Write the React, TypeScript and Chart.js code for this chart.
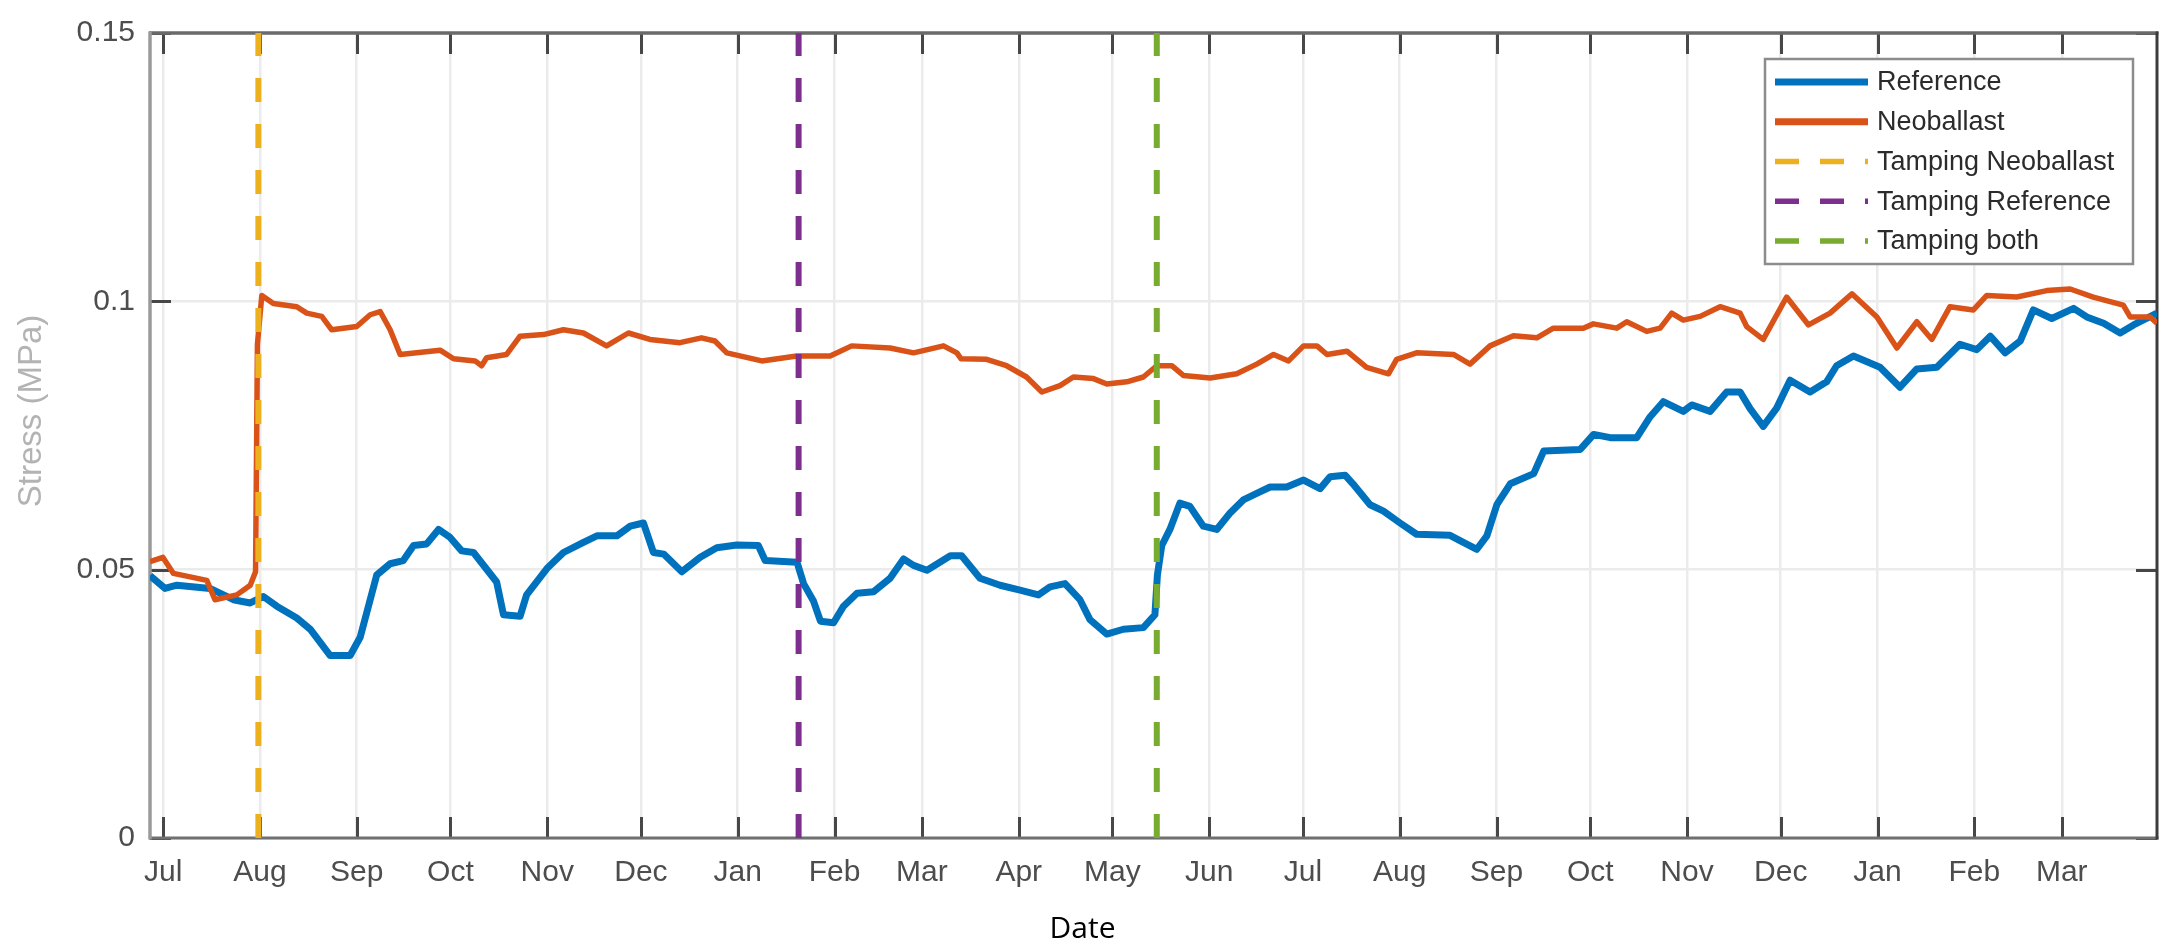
import { useEffect, useRef } from 'react';
import { Chart, registerables } from 'chart.js';

Chart.register(...registerables);

// ---- Axis data ----
const originDate = '2017-07-01';
const monthTickDates = [
  '2017-07-01', '2017-08-01', '2017-09-01', '2017-10-01', '2017-11-01', '2017-12-01',
  '2018-01-01', '2018-02-01', '2018-03-01', '2018-04-01', '2018-05-01', '2018-06-01',
  '2018-07-01', '2018-08-01', '2018-09-01', '2018-10-01', '2018-11-01', '2018-12-01',
  '2019-01-01', '2019-02-01', '2019-03-01',
];
const monthTickLabels = [
  'Jul', 'Aug', 'Sep', 'Oct', 'Nov', 'Dec', 'Jan', 'Feb', 'Mar', 'Apr', 'May', 'Jun',
  'Jul', 'Aug', 'Sep', 'Oct', 'Nov', 'Dec', 'Jan', 'Feb', 'Mar',
];
const yTickValues = [0, 0.05, 0.1, 0.15];
const xMinDay = -4.2;
const xMaxDay = 638.5;
const yMin = 0;
const yMax = 0.15;

// ---- Series (days since 1 Jul 2017, stress in MPa) ----
const referenceDays = [
  -4.2, 0.6, 4.4, 15, 22.5, 27.9, 32.1, 36.4, 42.8, 47.1, 53.5, 59.9, 63.1, 68.4, 72.7, 76.9,
  80.2, 84.4, 88.2, 91.9, 95.6, 99.4, 106.8, 109, 114.3, 116.4, 122.9, 128.2, 134.6, 138.9,
  145.3, 149.6, 153.8, 157, 160.3, 166.1, 172, 177.3, 183.7, 190.6, 192.8, 203, 205.1, 208.3,
  210.5, 214.7, 217.9, 222.2, 227.5, 232.8, 237.1, 240.3, 244.6, 252.1, 255.7, 261.6, 268,
  274.4, 280.3, 284, 288.8, 293.6, 296.8, 302.2, 307.5, 313.9, 317.6, 318.4, 319.8, 322.4,
  325.6, 328.8, 333.1, 337.4, 341.6, 345.9, 350.2, 354.5, 359.8, 365.2, 370.5, 373.7, 378.5,
  381, 386.5, 390.8, 396.1, 401.4, 412.1, 415.3, 420.7, 423.9, 427.1, 431.4, 438.9, 442.1,
  453.8, 458.1, 463.4, 471.9, 476.2, 480.4, 486.8, 489.5, 495.4, 500.7, 505, 508.2, 512.4,
  516.7, 521, 527.4, 532.7, 535.9, 541.3, 549.8, 556.2, 561.6, 568, 575.4, 580.8, 585.1,
  589.9, 594.7, 598.9, 604.8, 611.8, 616, 621.4, 626.7, 631, 638.5,
];
const referenceStress = [
  0.0489, 0.0465, 0.0471, 0.0465, 0.0444, 0.0438, 0.045, 0.0432, 0.041, 0.0389, 0.034, 0.034,
  0.0374, 0.049, 0.0511, 0.0517, 0.0545, 0.0548, 0.0575, 0.056, 0.0535, 0.0532, 0.0477, 0.0416,
  0.0413, 0.0453, 0.0502, 0.0532, 0.0551, 0.0563, 0.0563, 0.0581, 0.0587, 0.0532, 0.0529,
  0.0496, 0.0523, 0.0541, 0.0546, 0.0545, 0.0517, 0.0514, 0.0474, 0.0441, 0.0404, 0.0401,
  0.0432, 0.0456, 0.0459, 0.0484, 0.052, 0.0508, 0.0499, 0.0526, 0.0526, 0.0484, 0.0471,
  0.0462, 0.0453, 0.0468, 0.0474, 0.0444, 0.0407, 0.038, 0.0389, 0.0392, 0.0416, 0.049, 0.0545,
  0.0575, 0.0624, 0.0618, 0.0581, 0.0575, 0.0605, 0.063, 0.0642, 0.0654, 0.0654, 0.0667,
  0.0651, 0.0673, 0.0676, 0.066, 0.0621, 0.0609, 0.0587, 0.0566, 0.0564, 0.0554, 0.0538,
  0.0563, 0.0621, 0.066, 0.0679, 0.0721, 0.0724, 0.0752, 0.0746, 0.0746, 0.0785, 0.0813,
  0.0795, 0.0807, 0.0795, 0.0831, 0.0831, 0.08, 0.0767, 0.0801, 0.0853, 0.0831, 0.085, 0.088,
  0.0898, 0.0877, 0.084, 0.0874, 0.0877, 0.092, 0.091, 0.0935, 0.0904, 0.0926, 0.0984, 0.0968,
  0.0987, 0.0971, 0.0959, 0.0941, 0.0956, 0.0978,
];

const neoballastDays = [
  -4.2, -0.1, 3.3, 14, 16.6, 23.6, 27.9, 29.6, 30.2, 31.6, 35.3, 42.8, 46, 50.8, 54, 62, 66.3,
  69.5, 72.7, 75.9, 81.2, 88.7, 93, 99.9, 102, 103.6, 110, 114.3, 121.8, 128.2, 134.6, 142, 149,
  155.9, 165.5, 172.4, 176.7, 180.5, 191.7, 202.9, 213.6, 220.5, 232.8, 240.3, 249.9, 254.2,
  255.5, 263.7, 270.1, 276.5, 281.4, 287.2, 291.5, 297.9, 302.2, 308.6, 313.9, 318.2, 323,
  326.7, 335.3, 343.8, 350.2, 355.6, 360.4, 365.2, 369.5, 372.7, 379.1, 385.4, 392.4, 395,
  401.4, 413.2, 418.5, 424.9, 432.4, 439.9, 445.2, 454.8, 458, 465.5, 468.7, 475.1, 479.4,
  483.1, 486.8, 492.2, 498.6, 505, 507.1, 512.4, 519.9, 526.9, 533.8, 540.8, 548.8, 555.2,
  561.6, 566.4, 572.2, 579.7, 584, 593.6, 603.2, 610.7, 618.1, 627.7, 629.9, 636.3, 638.5,
];
const neoballastStress = [
  0.0515, 0.0523, 0.0493, 0.048, 0.0444, 0.0453, 0.0471, 0.0496, 0.092, 0.1011, 0.0996, 0.099,
  0.0978, 0.0972, 0.0947, 0.0953, 0.0975, 0.0981, 0.0947, 0.0901, 0.0904, 0.0909, 0.0893,
  0.0889, 0.088, 0.0895, 0.0901, 0.0935, 0.0938, 0.0947, 0.0941, 0.0917, 0.0941, 0.0929,
  0.0923, 0.0932, 0.0926, 0.0904, 0.0889, 0.0898, 0.0898, 0.0917, 0.0913, 0.0904, 0.0917,
  0.0904, 0.0893, 0.0892, 0.088, 0.0859, 0.0831, 0.0843, 0.0859, 0.0856, 0.0846, 0.085,
  0.0859, 0.088, 0.088, 0.0862, 0.0857, 0.0865, 0.0883, 0.0901, 0.0889, 0.0917, 0.0917,
  0.0901, 0.0907, 0.0877, 0.0865, 0.0892, 0.0904, 0.0901, 0.0883, 0.0917, 0.0936, 0.0932,
  0.095, 0.095, 0.0958, 0.095, 0.0962, 0.0944, 0.095, 0.0978, 0.0965, 0.0972, 0.099, 0.0978,
  0.0953, 0.0929, 0.1008, 0.0956, 0.0978, 0.1014, 0.0971, 0.0913, 0.0962, 0.0929, 0.099,
  0.0984, 0.1011, 0.1008, 0.102, 0.1023, 0.1008, 0.0993, 0.0971, 0.0971, 0.0959,
];

// Tamping events (days since 1 Jul 2017)
const tampingNeoballastDay = 30.5;
const tampingReferenceDay = 203.5;
const tampingBothDay = 318.2;

const DAY_MS = 86400000;
const toDay = (iso: string) => (Date.parse(iso) - Date.parse(originDate)) / DAY_MS;
const monthTickDays = monthTickDates.map(toDay);

const toPoints = (xs: number[], ys: number[]) => xs.map((x, i) => ({ x, y: ys[i] }));
const verticalLine = (d: number) => [{ x: d, y: yMin }, { x: d, y: yMax }];

const TICK_FONT = "'Liberation Sans', Arial, Helvetica, sans-serif";

const framePlugin = {
  id: 'matlabFrame',
  beforeDatasetsDraw(chart: any) {
    const { ctx, chartArea, scales } = chart;
    const { left, right, top, bottom } = chartArea;
    const xs = scales.x;
    const ys = scales.y;
    ctx.save();
    ctx.lineCap = 'butt';
    ctx.strokeStyle = '#474747';
    ctx.lineWidth = 3;
    const tl = 21;
    monthTickDays.forEach((d) => {
      const px = Math.round(xs.getPixelForValue(d)) + 0.5;
      ctx.beginPath();
      ctx.moveTo(px, bottom);
      ctx.lineTo(px, bottom - tl);
      ctx.moveTo(px, top);
      ctx.lineTo(px, top + tl);
      ctx.stroke();
    });
    yTickValues.forEach((v) => {
      const py = Math.round(ys.getPixelForValue(v)) + 0.5;
      ctx.beginPath();
      ctx.moveTo(left, py);
      ctx.lineTo(left + tl, py);
      ctx.moveTo(right, py);
      ctx.lineTo(right - tl, py);
      ctx.stroke();
    });
    const seg = (x1: number, y1: number, x2: number, y2: number, c: string, w: number) => {
      ctx.strokeStyle = c;
      ctx.lineWidth = w;
      ctx.beginPath();
      ctx.moveTo(x1, y1);
      ctx.lineTo(x2, y2);
      ctx.stroke();
    };
    seg(left - 1, top, right + 1.5, top, '#6a6a6a', 3.5);
    seg(left - 1, bottom, right + 1.5, bottom, '#707070', 3);
    seg(left, top - 1.5, left, bottom + 1.5, '#9a9a9a', 3.5);
    seg(right, top - 1.5, right, bottom + 1.5, '#3c3c3c', 3);
    ctx.restore();
  },
  afterDraw(chart: any) {
    const { ctx, chartArea, width } = chart;
    ctx.save();
    ctx.fillStyle = '#b3b3b3';
    ctx.font = `33px ${TICK_FONT}`;
    ctx.textAlign = 'center';
    ctx.textBaseline = 'middle';
    ctx.translate(32, 411);
    ctx.rotate(-Math.PI / 2);
    ctx.fillText('Stress (MPa)', 0, 0);
    ctx.restore();

    ctx.save();
    ctx.fillStyle = '#000000';
    ctx.font = "30px 'Open Sans', 'Noto Sans', sans-serif";
    ctx.textAlign = 'center';
    ctx.textBaseline = 'alphabetic';
    ctx.fillText('Date', width / 2, 938);
    ctx.restore();

    const boxW = 368;
    const boxH = 205;
    const bx = chartArea.right - 24 - boxW;
    const by = chartArea.top + 26;
    ctx.save();
    ctx.fillStyle = '#ffffff';
    ctx.fillRect(bx, by, boxW, boxH);
    ctx.strokeStyle = '#8c8c8c';
    ctx.lineWidth = 2.5;
    ctx.strokeRect(bx, by, boxW, boxH);
    ctx.font = `27px ${TICK_FONT}`;
    ctx.textBaseline = 'middle';
    ctx.textAlign = 'left';
    chart.data.datasets.forEach((ds: any, i: number) => {
      const cy = by + 23 + i * 39.75;
      const dashed = ds.borderDash && ds.borderDash.length;
      ctx.save();
      ctx.strokeStyle = ds.borderColor;
      ctx.lineWidth = dashed ? 5.5 : 7;
      ctx.setLineDash(dashed ? [24, 21] : []);
      ctx.beginPath();
      ctx.moveTo(bx + 10, cy);
      ctx.lineTo(bx + 103, cy);
      ctx.stroke();
      ctx.restore();
      ctx.fillStyle = '#2b2b2b';
      ctx.fillText(ds.label, bx + 112, cy + 1);
    });
    ctx.restore();
  },
};

export default function App() {
  const canvasRef = useRef<HTMLCanvasElement | null>(null);

  useEffect(() => {
    document.body.style.margin = '0';
    const canvas = canvasRef.current;
    if (!canvas) return;

    const chart = new Chart(canvas, {
      type: 'line',
      data: {
        datasets: [
          {
            label: 'Reference',
            data: toPoints(referenceDays, referenceStress),
            borderColor: '#0072BD',
            borderWidth: 7,
            borderJoinStyle: 'round',
            pointRadius: 0,
            tension: 0,
            fill: false,
            order: 5,
          },
          {
            label: 'Neoballast',
            data: toPoints(neoballastDays, neoballastStress),
            borderColor: '#D95319',
            borderWidth: 5.5,
            borderJoinStyle: 'round',
            pointRadius: 0,
            tension: 0,
            fill: false,
            order: 4,
          },
          {
            label: 'Tamping Neoballast',
            data: verticalLine(tampingNeoballastDay),
            borderColor: '#EDB120',
            borderWidth: 6,
            borderDash: [24, 22],
            pointRadius: 0,
            fill: false,
            order: 3,
          },
          {
            label: 'Tamping Reference',
            data: verticalLine(tampingReferenceDay),
            borderColor: '#7E2F8E',
            borderWidth: 6,
            borderDash: [24, 22],
            pointRadius: 0,
            fill: false,
            order: 2,
          },
          {
            label: 'Tamping both',
            data: verticalLine(tampingBothDay),
            borderColor: '#77AC30',
            borderWidth: 6,
            borderDash: [24, 22],
            pointRadius: 0,
            fill: false,
            order: 1,
          },
        ],
      },
      options: {
        animation: false,
        responsive: false,
        maintainAspectRatio: false,
        devicePixelRatio: 1,
        layout: { padding: { left: 0, right: 8, top: 22, bottom: 0 }, autoPadding: false },
        plugins: {
          legend: { display: false },
          tooltip: { enabled: false },
          title: { display: false },
        },
        events: [],
        scales: {
          x: {
            type: 'linear',
            min: xMinDay,
            max: xMaxDay,
            afterBuildTicks: (scale: any) => {
              scale.ticks = monthTickDays.map((v) => ({ value: v }));
            },
            afterFit: (scale: any) => {
              scale.height = 107;
            },
            ticks: {
              autoSkip: false,
              maxRotation: 0,
              minRotation: 0,
              padding: 17,
              color: '#4d4d4d',
              font: { family: TICK_FONT, size: 30 },
              callback: (_v: any, i: number) => monthTickLabels[i],
            },
            grid: { color: '#ebebeb', lineWidth: 2.5, drawTicks: false },
            border: { display: false },
          },
          y: {
            type: 'linear',
            min: yMin,
            max: yMax,
            afterBuildTicks: (scale: any) => {
              scale.ticks = yTickValues.map((v) => ({ value: v }));
            },
            afterFit: (scale: any) => {
              scale.width = 150;
            },
            ticks: {
              padding: 15,
              color: '#4d4d4d',
              font: { family: TICK_FONT, size: 30 },
              callback: (v: any) => String(Number(Number(v).toFixed(2))),
            },
            grid: { color: '#ebebeb', lineWidth: 2.5, drawTicks: false },
            border: { display: false },
          },
        },
      } as any,
      plugins: [framePlugin],
    });

    return () => chart.destroy();
  }, []);

  return (
    <div style={{ width: 2165, height: 945, background: '#ffffff' }}>
      <canvas ref={canvasRef} width={2165} height={945} style={{ display: 'block', width: 2165, height: 945 }} />
    </div>
  );
}
